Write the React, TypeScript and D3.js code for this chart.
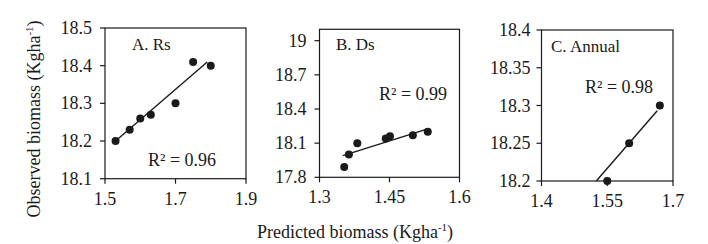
import React from "react";
import * as d3 from "d3";

// ---- Data ----
const rsPredicted = [1.53, 1.57, 1.6, 1.63, 1.7, 1.75, 1.8];
const rsObserved = [18.2, 18.23, 18.26, 18.27, 18.3, 18.41, 18.4];
const rsTrend = [[1.53, 18.2], [1.79, 18.41]];
const rsXTicks = [1.5, 1.7, 1.9];
const rsYTicks = [18.1, 18.2, 18.3, 18.4, 18.5];

const dsPredicted = [1.353, 1.363, 1.381, 1.442, 1.451, 1.5, 1.532];
const dsObserved = [17.89, 18.0, 18.1, 18.14, 18.16, 18.17, 18.2];
const dsTrend = [[1.35, 17.99], [1.532, 18.225]];
const dsXTicks = [1.3, 1.45, 1.6];
const dsYTicks = [17.8, 18.1, 18.4, 18.7, 19];

const annPredicted = [1.55, 1.6, 1.67];
const annObserved = [18.2, 18.25, 18.3];
const annTrend = [[1.525, 18.2], [1.664, 18.293]];
const annXTicks = [1.4, 1.55, 1.7];
const annYTicks = [18.2, 18.25, 18.3, 18.35, 18.4];

const panelTitles = ["A. Rs", "B. Ds", "C. Annual"];
const r2Labels = ["R² = 0.96", "R² = 0.99", "R² = 0.98"];

const FONT = "'Liberation Serif', 'Times New Roman', serif";
const INK = "#1a1a1a";

type Panel = {
  xs: number[];
  ys: number[];
  trend: number[][];
  xTicks: number[];
  yTicks: number[];
  xDomain: [number, number];
  yDomain: [number, number];
  box: { l: number; r: number; t: number; b: number };
  title: string;
  titlePos: [number, number];
  r2: string;
  r2Pos: [number, number];
  yLabelGap: number;
};

const panels: Panel[] = [
  {
    xs: rsPredicted, ys: rsObserved, trend: rsTrend, xTicks: rsXTicks, yTicks: rsYTicks,
    xDomain: [1.5, 1.9], yDomain: [18.1, 18.5],
    box: { l: 105, r: 246, t: 28, b: 178.7 },
    title: panelTitles[0], titlePos: [132, 50],
    r2: r2Labels[0], r2Pos: [148, 166], yLabelGap: 13,
  },
  {
    xs: dsPredicted, ys: dsObserved, trend: dsTrend, xTicks: dsXTicks, yTicks: dsYTicks,
    xDomain: [1.3, 1.6], yDomain: [17.8, 19.1],
    box: { l: 319.5, r: 459.5, t: 29.3, b: 177.3 },
    title: panelTitles[1], titlePos: [336, 50],
    r2: r2Labels[1], r2Pos: [379, 100], yLabelGap: 13,
  },
  {
    xs: annPredicted, ys: annObserved, trend: annTrend, xTicks: annXTicks, yTicks: annYTicks,
    xDomain: [1.4, 1.7], yDomain: [18.2, 18.4],
    box: { l: 541.5, r: 673, t: 30, b: 181 },
    title: panelTitles[2], titlePos: [551, 52],
    r2: r2Labels[2], r2Pos: [585, 93], yLabelGap: 11,
  },
];

function PanelView({ p }: { p: Panel }) {
  const x = d3.scaleLinear().domain(p.xDomain).range([p.box.l, p.box.r]);
  const y = d3.scaleLinear().domain(p.yDomain).range([p.box.b, p.box.t]);
  const line = d3.line<number[]>().x((d) => x(d[0])).y((d) => y(d[1]));
  return (
    <g>
      <rect x={p.box.l} y={p.box.t} width={p.box.r - p.box.l} height={p.box.b - p.box.t}
        fill="none" stroke={INK} strokeWidth={1.2} />
      {p.yTicks.map((v) => (
        <g key={"y" + v}>
          <line x1={p.box.l - 5} x2={p.box.l} y1={y(v)} y2={y(v)} stroke={INK} strokeWidth={1.2} />
          <text x={p.box.l - p.yLabelGap} y={y(v)} dy="0.34em" textAnchor="end"
            fontSize={18} fontFamily={FONT} fill={INK}>{String(v)}</text>
        </g>
      ))}
      {p.xTicks.map((v) => (
        <g key={"x" + v}>
          <line x1={x(v)} x2={x(v)} y1={p.box.b} y2={p.box.b + 5} stroke={INK} strokeWidth={1.2} />
          <text x={x(v)} y={p.box.b + 26} textAnchor="middle"
            fontSize={18} fontFamily={FONT} fill={INK}>{String(v)}</text>
        </g>
      ))}
      <path d={line(p.trend) || ""} fill="none" stroke={INK} strokeWidth={1.4} />
      {p.xs.map((v, i) => (
        <circle key={i} cx={x(v)} cy={y(p.ys[i])} r={4} fill={INK} />
      ))}
      <text x={p.titlePos[0]} y={p.titlePos[1]} fontSize={17} fontFamily={FONT} fill={INK}>{p.title}</text>
      <text x={p.r2Pos[0]} y={p.r2Pos[1]} fontSize={18} fontFamily={FONT} fill={INK}>{p.r2}</text>
    </g>
  );
}

export default function App() {
  return (
    <svg width={708} height={244} style={{ position: "absolute", left: 0, top: 0, background: "#fff" }}>
      <rect width={708} height={244} fill="#fff" />
      {panels.map((p, i) => <PanelView key={i} p={p} />)}
      <text transform="translate(39.5,119) rotate(-90)" textAnchor="middle"
        fontSize={18} fontFamily={FONT} fill={INK}>
        Observed biomass (Kgha<tspan fontSize={11} dy={-7}>-1</tspan><tspan dy={7}>)</tspan>
      </text>
      <text x={355} y={238} textAnchor="middle" fontSize={18} fontFamily={FONT} fill={INK}>
        Predicted biomass (Kgha<tspan fontSize={11} dy={-7}>-1</tspan><tspan dy={7}>)</tspan>
      </text>
    </svg>
  );
}
